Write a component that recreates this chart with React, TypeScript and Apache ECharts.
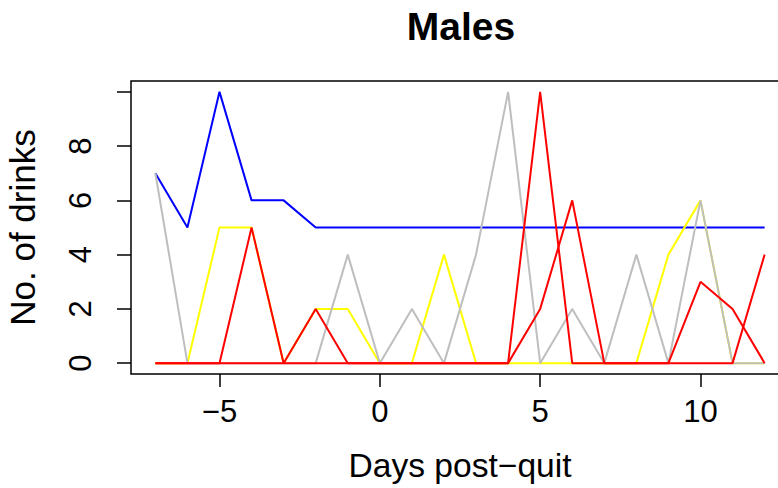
import React, { useEffect, useRef } from "react";
import * as echarts from "echarts";

const days = [-7, -6, -5, -4, -3, -2, -1, 0, 1, 2, 3, 4, 5, 6, 7, 8, 9, 10, 11, 12];
const blueSeries = [7, 5, 10, 6, 6, 5, 5, 5, 5, 5, 5, 5, 5, 5, 5, 5, 5, 5, 5, 5];
const yellowSeries = [0, 0, 5, 5, 0, 2, 2, 0, 0, 4, 0, 0, 0, 0, 0, 0, 4, 6, 0, 0];
const graySeries = [7, 0, 0, 0, 0, 0, 4, 0, 2, 0, 4, 10, 0, 2, 0, 4, 0, 6, 0, 0];
const redSeriesB = [0, 0, 0, 0, 0, 0, 0, 0, 0, 0, 0, 0, 2, 6, 0, 0, 0, 3, 2, 0];
const redSeriesA = [0, 0, 0, 5, 0, 2, 0, 0, 0, 0, 0, 0, 10, 0, 0, 0, 0, 0, 0, 4];
const xTicks = [-5, 0, 5, 10];
const yTicks = [0, 2, 4, 6, 8, 10];
const yLabels = [0, 2, 4, 6, 8];

const FONT = "'Liberation Sans', Arial, sans-serif";

export default function App() {
  const ref = useRef<HTMLDivElement>(null);
  useEffect(() => {
    if (!ref.current) return;
    const chart = echarts.init(ref.current, null, { renderer: "svg" });
    const mk = (name: string, vals: number[], color: string) => ({
      name,
      type: "line",
      data: days.map((d, i) => [d, vals[i]]),
      symbol: "none",
      lineStyle: { color, width: 2 },
      itemStyle: { color },
    });
    chart.setOption({
      animation: false,
      graphic: [
        {
          type: "text",
          x: 461,
          y: 26,
          style: {
            text: "Males",
            fontFamily: FONT,
            fontSize: 39,
            fontWeight: "bold",
            fill: "#000",
            align: "center",
            verticalAlign: "middle",
          },
        },
      ],
      grid: {
        left: 131,
        right: 1,
        top: 81,
        bottom: 114,
        containLabel: false,
        outerBoundsMode: "none",
        show: true,
        borderColor: "#000",
        borderWidth: 1.5,
        backgroundColor: "transparent",
      },
      xAxis: {
        type: "value",
        min: -7.76,
        max: 12.76,
        name: "Days post\u2212quit",
        nameLocation: "middle",
        nameGap: 74,
        nameTextStyle: { fontFamily: FONT, fontSize: 33.6, color: "#000" },
        axisLine: { show: false, onZero: false },
        splitLine: { show: false },
        axisTick: { show: true, length: 13, customValues: xTicks, lineStyle: { color: "#000", width: 1.5 } },
        axisLabel: {
          customValues: xTicks,
          fontFamily: FONT,
          fontSize: 31,
          color: "#000",
          margin: 22,
          formatter: (v: number) => (v < 0 ? "\u2212" + Math.abs(v) : String(v)),
        },
      },
      yAxis: {
        type: "value",
        min: -0.4,
        max: 10.4,
        name: "No. of drinks",
        nameLocation: "middle",
        nameGap: 91,
        nameTextStyle: { fontFamily: FONT, fontSize: 35, color: "#000" },
        axisLine: { show: false, onZero: false },
        splitLine: { show: false },
        axisTick: { show: true, length: 14, customValues: yTicks, lineStyle: { color: "#000", width: 1.5 } },
        axisLabel: {
          customValues: yLabels,
          rotate: 90,
          fontFamily: FONT,
          fontSize: 31,
          color: "#000",
          margin: 35,
        },
      },
      series: [
        mk("blue", blueSeries, "#0000FF"),
        mk("yellow", yellowSeries, "#FFFF00"),
        mk("gray", graySeries, "#BEBEBE"),
        mk("redB", redSeriesB, "#FF0000"),
        mk("redA", redSeriesA, "#FF0000"),
      ],
    });
    return () => chart.dispose();
  }, []);
  return (
    <div
      style={{ position: "absolute", left: 0, top: 0, width: 778, height: 488, overflow: "hidden", background: "#fff" }}
    >
      <div ref={ref} style={{ width: 790, height: 488 }} />
    </div>
  );
}
